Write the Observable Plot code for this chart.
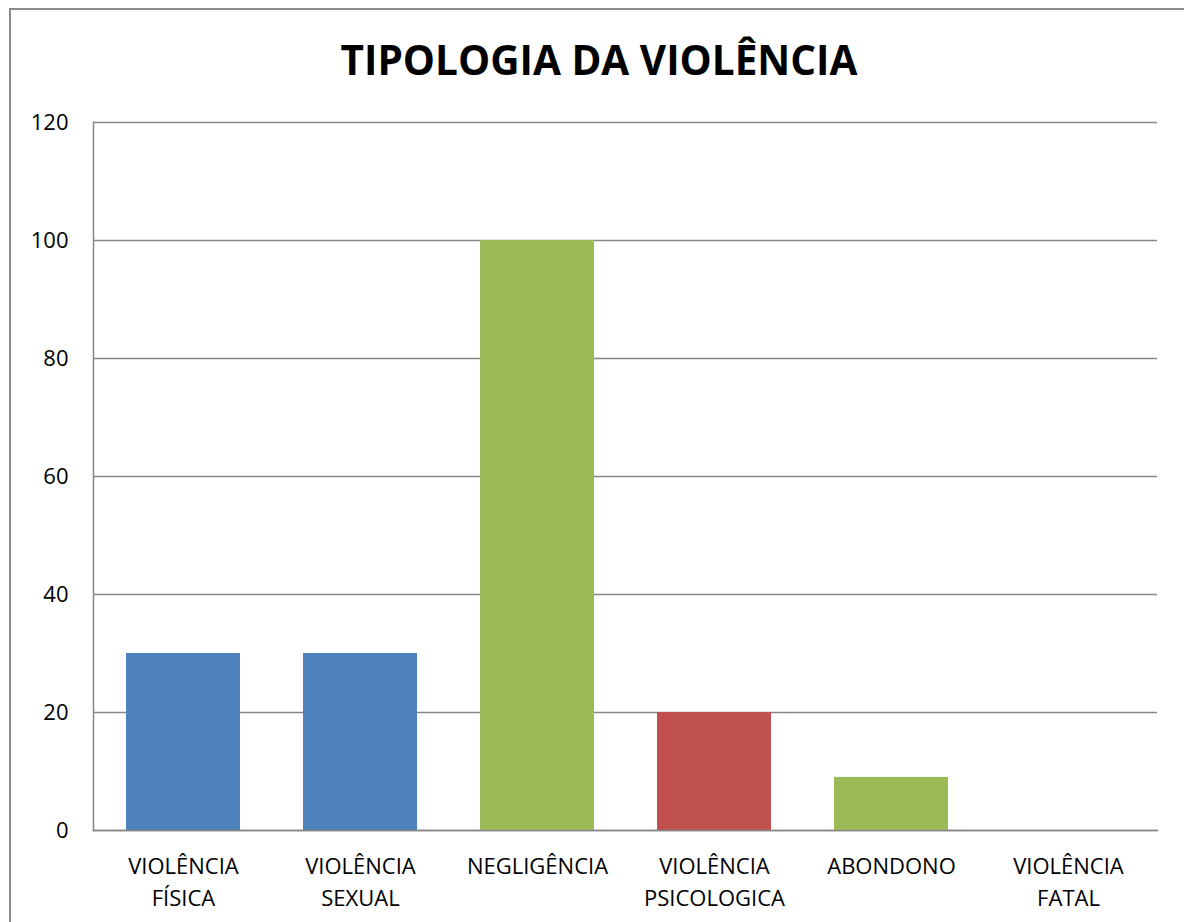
<!DOCTYPE html>
<html>
<head>
<meta charset="utf-8">
<script src="https://cdn.jsdelivr.net/npm/d3@7"></script>
<script src="https://cdn.jsdelivr.net/npm/@observablehq/plot@0.6"></script>
<style>
  html, body { margin: 0; padding: 0; background: #fff; width: 1184px; height: 922px; overflow: hidden; }
  #frame { position: absolute; left: 9px; top: 8px; width: 1300px; height: 1000px;
           border-left: 2px solid #8c8c8c; border-top: 2px solid #8c8c8c; }
  #title { position: absolute; left: 0; top: 33px; width: 1198px; text-align: center;
           font-family: "Open Sans", sans-serif; font-weight: 700; font-size: 40.5px; line-height: 54px; color: #000; }
  #chart { position: absolute; left: 0; top: 0; }
</style>
</head>
<body>
<div id="frame"></div>
<div id="title">TIPOLOGIA DA VIOLÊNCIA</div>
<div id="chart"></div>
<script>
const categories = ["VIOLÊNCIA\nFÍSICA", "VIOLÊNCIA\nSEXUAL", "NEGLIGÊNCIA", "VIOLÊNCIA\nPSICOLOGICA", "ABONDONO", "VIOLÊNCIA\nFATAL"];
const values = [30, 30, 100, 20, 9, 0];
const colors = ["#4F81BD", "#4F81BD", "#9BBB59", "#C0504D", "#9BBB59", "#9BBB59"];
const yTicks = [0, 20, 40, 60, 80, 100, 120];

const data = categories.map((c, i) => ({category: c, value: values[i], color: colors[i]}));

const chart = Plot.plot({
  width: 1184,
  height: 922,
  marginLeft: 93,
  marginRight: 27,
  marginTop: 122,
  marginBottom: 92,
  style: {fontFamily: "'Open Sans', sans-serif", fontSize: "22px", color: "#000", background: "transparent"},
  x: {domain: categories, paddingInner: 0.357, paddingOuter: 0.1785, label: null},
  y: {domain: [0, 120], label: null},
  marks: [
    Plot.gridY(yTicks, {stroke: "#868686", strokeOpacity: 1, strokeWidth: 1.5}),
    Plot.barY(data, {x: "category", y: "value", fill: "color"}),
    Plot.frame({anchor: "left", stroke: "#868686", strokeWidth: 1.5}),
    Plot.frame({anchor: "bottom", stroke: "#868686", strokeWidth: 1.5}),
    Plot.axisY({ticks: yTicks, tickSize: 0, tickPadding: 25, fontSize: 22, fill: "#000"}),
    Plot.axisX({tickSize: 0, tickPadding: 21, fontSize: 22, lineHeight: 1.45, fill: "#000"})
  ]
});
document.getElementById("chart").appendChild(chart);
</script>
</body>
</html>
